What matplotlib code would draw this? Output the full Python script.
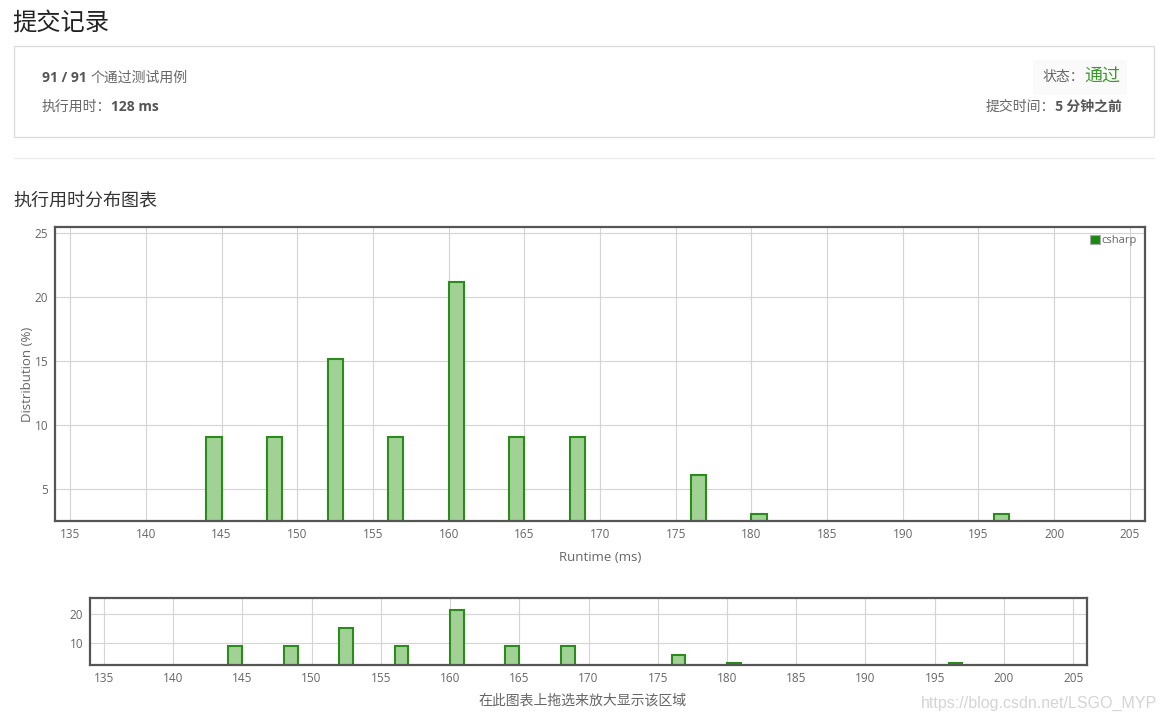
import matplotlib
matplotlib.use("Agg")
import matplotlib.pyplot as plt
from matplotlib.patches import Rectangle, Patch
from matplotlib.lines import Line2D

# ---------------- data ----------------
runtime_bins = [144, 148, 152, 156, 160, 164, 168, 176, 180, 196]
distribution = [9.09, 9.09, 15.15, 9.09, 21.21, 9.09, 9.09, 6.06, 3.03, 3.03]
x_ticks = [135, 140, 145, 150, 155, 160, 165, 170, 175, 180, 185, 190, 195, 200, 205]
y_ticks_main = [5, 10, 15, 20, 25]
y_ticks_nav = [10, 20]
series_name = "csharp"

W, H = 1166, 720
FAM = ["Open Sans", "Noto Sans CJK SC", "DejaVu Sans"]
CJK = ["Noto Sans CJK SC", "DejaVu Sans"]
plt.rcParams["font.family"] = FAM

fig = plt.figure(figsize=(W / 100, H / 100), dpi=100)
fig.patch.set_facecolor("white")


def fx(x):
    return x / W


def fy(y):
    return 1 - y / H


renderer = fig.canvas.get_renderer()


def seq_text(x, y, parts, ha="left"):
    """parts: list of (text, dict of kwargs). Draw consecutively at pixel pos."""
    objs = []
    widths = []
    for s, kw in parts:
        t = fig.text(0, fy(y), s, va="center", ha="left", **kw)
        bb = t.get_window_extent(renderer=renderer)
        objs.append(t)
        widths.append(bb.width)
    total = sum(widths)
    start = x if ha == "left" else x - total
    cur = start
    for t, w in zip(objs, widths):
        t.set_x(fx(cur))
        cur += w


# ---------------- header ----------------
fig.text(fx(12), fy(23), "提交记录", family=CJK, fontsize=17.5, color="#222222", va="center")
fig.patches.append(Rectangle((fx(14), fy(137)), fx(1140), (137 - 46) / H, transform=fig.transFigure,
                             facecolor="white", edgecolor="#dddddd", linewidth=1))
fig.patches.append(Rectangle((fx(1033), fy(95)), fx(94), 35 / H, transform=fig.transFigure,
                             facecolor="#fafafa", edgecolor="none"))
seq_text(42, 78, [("91 / 91 ", dict(fontsize=10, fontweight="bold", color="#555555", family=FAM)),
                  ("个通过测试用例", dict(fontsize=10, color="#666666", family=CJK))])
seq_text(42, 107, [("执行用时：", dict(fontsize=10, color="#666666", family=CJK)),
                   ("128 ms", dict(fontsize=10, fontweight="bold", color="#555555", family=FAM))])
seq_text(1120, 77, [("状态：", dict(fontsize=10, color="#666666", family=CJK)),
                    ("通过", dict(fontsize=13, color="#3a9a2a", family=CJK))], ha="right")
seq_text(1122, 107, [("提交时间：", dict(fontsize=10, color="#666666", family=CJK)),
                     ("5 分钟之前", dict(fontsize=10, fontweight="bold", color="#555555", family=CJK))],
         ha="right")
fig.add_artist(Line2D([fx(14), fx(1154)], [fy(158), fy(158)], transform=fig.transFigure,
                      color="#eeeeee", linewidth=1))
fig.text(fx(13), fy(201), "执行用时分布图表", family=CJK, fontsize=13, color="#333333", va="center")


# ---------------- charts ----------------
def style_axes(ax, yticks):
    ax.set_xlim(134, 206)
    ax.set_xticks(x_ticks)
    ax.set_yticks(yticks)
    ax.grid(True, color="#d4d4d4", linewidth=0.8)
    ax.set_axisbelow(True)
    for s in ax.spines.values():
        s.set_color("#555555")
        s.set_linewidth(1.6)
    ax.tick_params(length=0, labelsize=8.5, labelcolor="#666666", pad=5)


ax = fig.add_axes([fx(55), fy(521), (1145 - 55) / W, (521 - 227) / H])
ax.bar(runtime_bins, distribution, width=1, align="edge", color="#a2d196",
       edgecolor="#2a8c1a", linewidth=1.5, label=series_name)
ax.set_ylim(2.5, 25.5)
style_axes(ax, y_ticks_main)
ax.set_xlabel("Runtime (ms)", fontsize=9.5, color="#666666", labelpad=7)
ax.set_ylabel("Distribution (%)", fontsize=9.5, color="#666666", labelpad=0)
ax.legend(handles=[Patch(facecolor="#1a8a0f", edgecolor="#aaaaaa", linewidth=0.8, label=series_name)],
          loc="upper right", frameon=False, fontsize=8, handlelength=0.9, handleheight=0.9,
          handletextpad=0.15, borderaxespad=0.3, labelcolor="#666666")

ax2 = fig.add_axes([fx(90), fy(665), (1087 - 90) / W, (665 - 598) / H])
ax2.bar(runtime_bins, distribution, width=1, align="edge", color="#a2d196",
        edgecolor="#2a8c1a", linewidth=1.5)
ax2.set_ylim(2.5, 25.5)
style_axes(ax2, y_ticks_nav)

fig.text(fx(583), fy(700), "在此图表上拖选来放大显示该区域", family=CJK, fontsize=10,
         color="#666666", ha="center", va="center")
fig.text(fx(1157), fy(703), "https://blog.csdn.net/LSGO_MYP", family=["Liberation Sans", "DejaVu Sans"],
         fontsize=11.5, color="#d4d4d4", ha="right", va="center")

fig.savefig("out.png", dpi=100)
